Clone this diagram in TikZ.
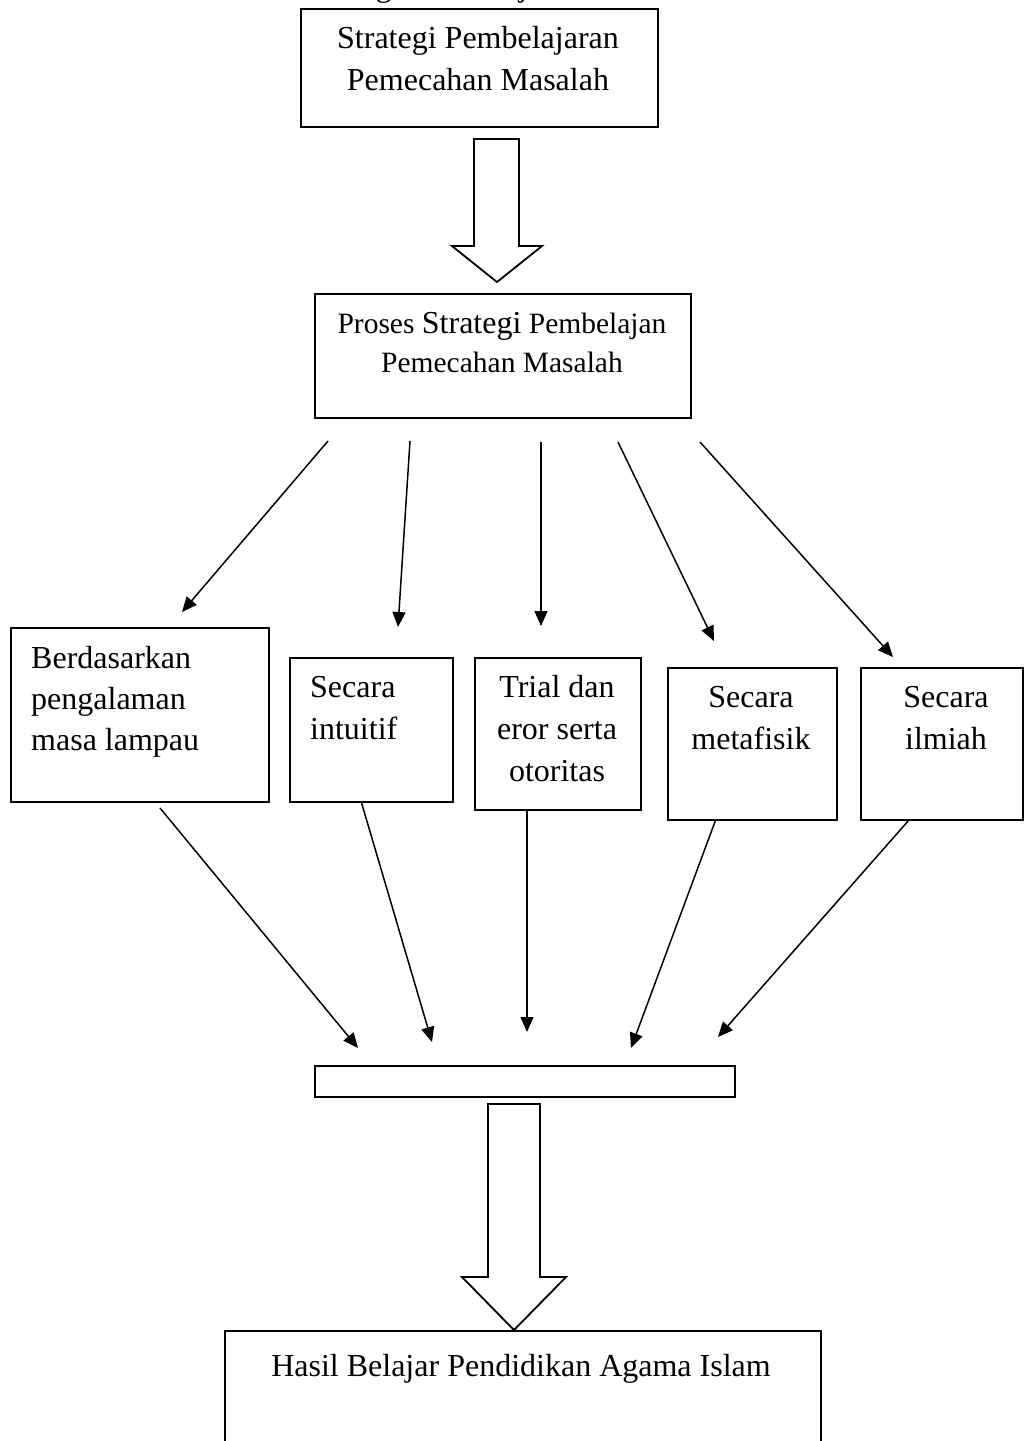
\documentclass[tikz,border=0pt]{standalone}
\usepackage{fontspec}
\setmainfont{Liberation Serif}
\usetikzlibrary{arrows.meta}
\begin{document}
\begin{tikzpicture}[x=1pt,y=-1pt,
  box/.style={draw, line width=1.8pt, rectangle, inner sep=0pt, anchor=north west},
  lbl/.style={inner sep=0pt, font=\fontsize{32}{42}\selectfont},
  conn/.style={line width=1.5pt, -{Triangle[length=15pt,width=13pt]}},
  blockarrow/.style={draw, line width=1.8pt, fill=white, line join=miter}]
\useasboundingbox (0,0) rectangle (1024,1441);
\clip (0,0) rectangle (1024,1441);
\fill[white] (0,0) rectangle (1024,1441);

% clipped heading above the picture
\node[lbl, anchor=base west] (head) at (301,-4) {Strategi Pembelajaran};

% boxes
\node[box, minimum width=357pt, minimum height=118pt] (top) at (300,8) {};
\node[box, minimum width=376pt, minimum height=124pt] (proc) at (314,293) {};
\node[box, minimum width=258pt, minimum height=174pt] (b1) at (10,627) {};
\node[box, minimum width=163pt, minimum height=144pt] (b2) at (289,657) {};
\node[box, minimum width=166pt, minimum height=152pt] (b3) at (474,657) {};
\node[box, minimum width=169pt, minimum height=152pt] (b4) at (667,667) {};
\node[box, minimum width=162pt, minimum height=152pt] (b5) at (860,667) {};
\node[box, minimum width=420pt, minimum height=31pt] (bar) at (314,1065) {};
\node[box, minimum width=596pt, minimum height=160pt] (res) at (224,1330) {};

% labels (anchor=base = baseline of the last line)
\node[lbl, anchor=base, align=center] (ttop) at (478,90) {Strategi Pembelajaran\\Pemecahan Masalah};
\node[lbl, anchor=base, align=center, font=\fontsize{29.5}{39}\selectfont] (tproc) at (502,372)
  {Proses {\fontsize{32}{39}\selectfont Strategi} Pembelajan\\Pemecahan Masalah};
\node[lbl, anchor=base west, align=left, font=\fontsize{32}{41}\selectfont] (t1) at (31,750) {Berdasarkan\\pengalaman\\masa lampau};
\node[lbl, anchor=base west, align=left] (t2) at (310,739) {Secara\\intuitif};
\node[lbl, anchor=base, align=center] (t3) at (557,781) {Trial dan\\eror serta\\otoritas};
\node[lbl, anchor=base, align=center] (t4) at (751,749) {Secara\\metafisik};
\node[lbl, anchor=base, align=center] (t5) at (946,749) {Secara\\ilmiah};
\node[lbl, anchor=base] (tres) at (521,1376) {Hasil Belajar Pendidikan Agama Islam};

% block arrows
\draw[blockarrow] (474,139) -- (519,139) -- (519,246) -- (542,246) -- (497,282) -- (452,246) -- (474,246) -- cycle;
\draw[blockarrow] (488,1104) -- (540,1104) -- (540,1277) -- (566,1277) -- (514,1330) -- (462,1277) -- (488,1277) -- cycle;

% connector end points
\coordinate (s1) at (328,441); \coordinate (e1) at (182,612);
\coordinate (s2) at (410,441); \coordinate (e2) at (398,627);
\coordinate (s3) at (541,442); \coordinate (e3) at (541,626);
\coordinate (s4) at (618,442); \coordinate (e4) at (714,641);
\coordinate (s5) at (700,442); \coordinate (e5) at (893,657);
\coordinate (u1) at (160,808); \coordinate (f1) at (358,1048);
\coordinate (u2) at (361,801); \coordinate (f2) at (432,1042);
\coordinate (u3) at (527,809); \coordinate (f3) at (527,1032);
\coordinate (u4) at (716,819); \coordinate (f4) at (631,1048);
\coordinate (u5) at (909,820); \coordinate (f5) at (718,1037);

\foreach \a/\b in {s1/e1,s2/e2,s3/e3,s4/e4,s5/e5,u1/f1,u2/f2,u3/f3,u4/f4,u5/f5}
  \draw[conn] (\a) -- (\b);
\end{tikzpicture}
\end{document}
